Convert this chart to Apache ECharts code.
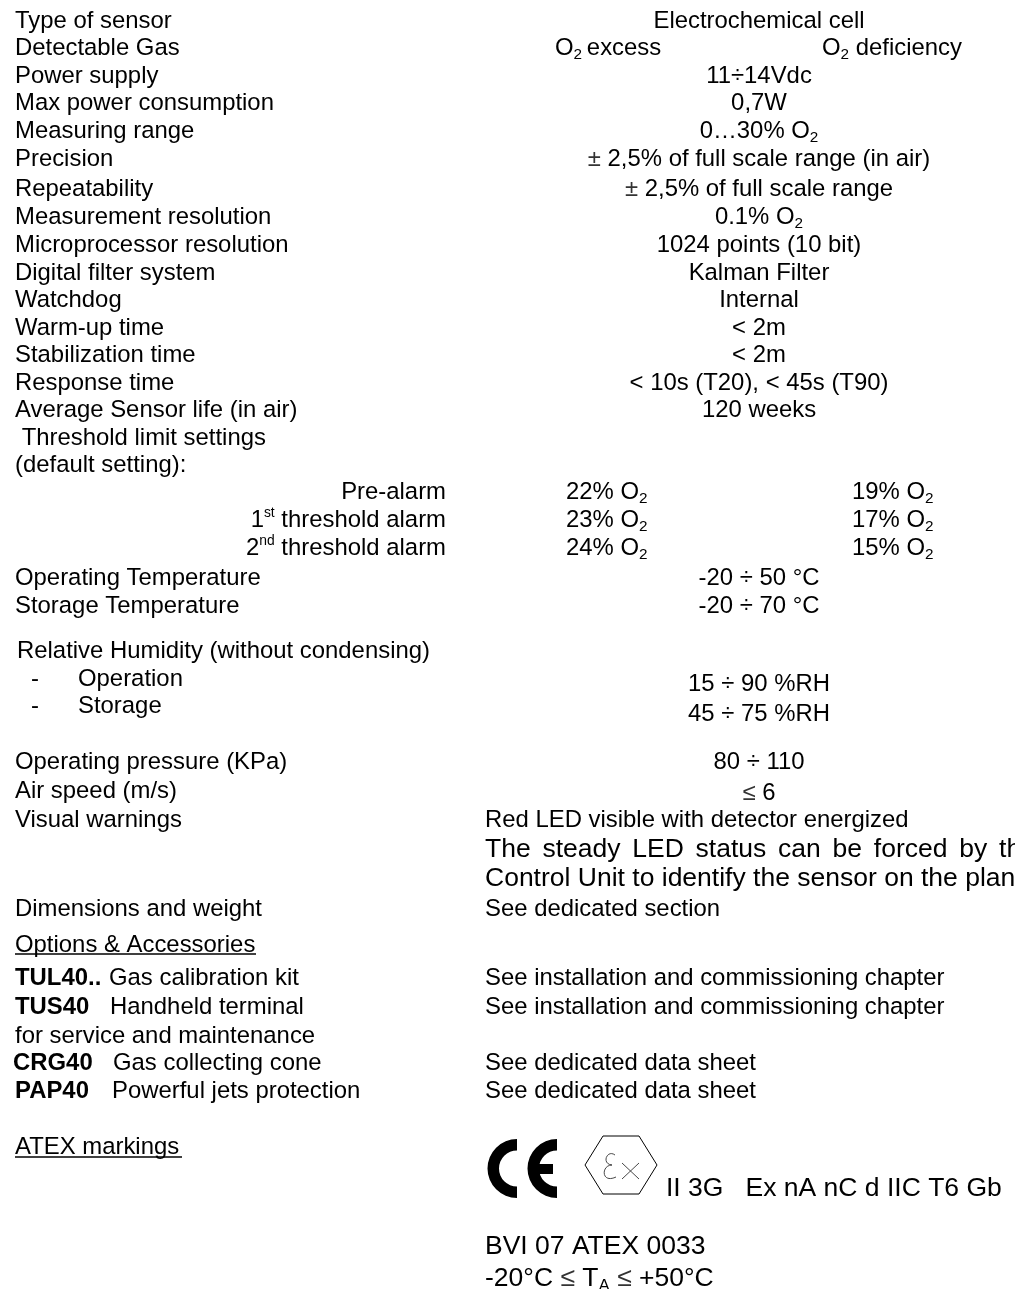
<!DOCTYPE html>
<html><head><meta charset="utf-8">
<style>html,body{margin:0;padding:0;background:#fff;overflow:hidden}#c{width:1031px;height:1289px}</style>
<script src="https://cdn.jsdelivr.net/npm/echarts@6/dist/echarts.min.js"></script>
</head><body><div id="c"></div>
<script>
// ---- content: text only ----
const leftLabels = ["Type of sensor","Detectable Gas","Power supply","Max power consumption","Measuring range","Precision","Repeatability","Measurement resolution","Microprocessor resolution","Digital filter system","Watchdog","Warm-up time","Stabilization time","Response time","Average Sensor life (in air)"," Threshold limit settings","(default setting):"];
const thresholdLabels = ["Pre-alarm","1^{st} threshold alarm","2^{nd} threshold alarm"];
const excessValues = ["22% O_2","23% O_2","24% O_2"];
const deficiencyValues = ["19% O_2","17% O_2","15% O_2"];
const centerValues = ["Electrochemical cell","11÷14Vdc","0,7W","0…30% O_2","± 2,5% of full scale range (in air)","± 2,5% of full scale range","0.1% O_2","1024 points (10 bit)","Kalman Filter","Internal","< 2m","< 2m","< 10s (T20), < 45s (T90)","120 weeks"];
const gasTypes = ["O_2\u2009excess","O_2 deficiency"];
const envLabels = ["Operating Temperature","Storage Temperature","Relative Humidity (without condensing)","Operating pressure (KPa)","Air speed (m/s)","Visual warnings","Dimensions and weight"];
const envSubLabels = ["-","Operation","-","Storage"];
const envValues = ["-20 ÷ 50 °C","-20 ÷ 70 °C","15 ÷ 90 %RH","45 ÷ 75 %RH","80 ÷ 110","≤ 6"];
const ledNotes = ["Red LED visible with detector energized","See dedicated section"];
const ledLong = ["The \u2006steady \u2006LED \u2006status \u2006can \u2006be \u2006forced \u2006by \u2006th","Control Unit to identify the sensor on the plan"];
const accessoryHeadings = ["Options & Accessories","ATEX markings"];
const accessoryCodes = ["TUL40..","TUS40","CRG40","PAP40"];
const accessoryNames = ["Gas calibration kit","Handheld terminal","Gas collecting cone","Powerful jets protection"];
const accessoryExtra = ["for service and maintenance"];
const accessoryRefs = ["See installation and commissioning chapter","See installation and commissioning chapter","See dedicated data sheet","See dedicated data sheet"];
const atexLines = ["II 3G   Ex nA nC d IIC T6 Gb","BVI 07 ATEX 0033","-20°C ≤ T_A ≤ +50°C"];

// ---- layout ----
const FS = 23.9, BIG = 26.5, YOFF = 1;
const rowY = [20,47,75,102,130,158,188,216,244,272,299,327,354,382,409,437,464];
const centerY = [20,75,102,130,158,188,216,244,272,299,327,354,382,409];
const threshY = [491,519,547];
const envY = [577,605,650,761,790,819,908];
const envXs = [15,15,17,15,15,15,15];
const envSubY = [678,678,705,705];
const envSubX = [31,78,31,78];
const envValY = [577,605,683,713,761,792];
const accY=[977,1006,1062,1090];
const LEFT = 15, CX = 759, RX = 485;

const base = {fontFamily:'Liberation Sans',fill:'#000'};
const makeRich = fs => ({
  sub:Object.assign({fontSize:fs*0.64,lineHeight:fs*0.86,verticalAlign:'bottom'},base),
  sup:Object.assign({fontSize:fs*0.58,lineHeight:fs*0.58,verticalAlign:'top'},base),
  sym:Object.assign({},base,{fontSize:fs,lineHeight:fs*1.17,fill:'#333'}),
  n:Object.assign({fontSize:fs,lineHeight:fs*1.17},base)
});
function mark(s){
  return s.split(/(_\w|\^\{\w+\}|[±≤])/).filter(Boolean).map(p=>{
    if(p==='±'||p==='≤') return '{sym|'+p+'}';
    if(p[0]==='_') return '{sub|'+p.slice(1)+'}';
    if(p[0]==='^') return '{sup|'+p.slice(2,-1)+'}';
    return '{n|'+p+'}';
  }).join('');
}
function T(s,x,y,align,fs){
  fs=fs||FS;
  return {type:'text',x:x,y:y+YOFF,silent:true,style:{
    text:mark(s),align:align||'left',verticalAlign:'middle',rich:makeRich(fs),
    fontFamily:'Liberation Sans',fontSize:fs,fill:'#000'}};
}
const els=[];
leftLabels.forEach((s,i)=>els.push(T(s,LEFT,rowY[i])));
thresholdLabels.forEach((s,i)=>els.push(T(s,446,threshY[i],'right')));
excessValues.forEach((s,i)=>els.push(T(s,566,threshY[i])));
deficiencyValues.forEach((s,i)=>els.push(T(s,852,threshY[i])));
centerValues.forEach((s,i)=>els.push(T(s,CX,centerY[i],'center')));
els.push(T(gasTypes[0],555,47),T(gasTypes[1],822,47));
envLabels.forEach((s,i)=>els.push(T(s,envXs[i],envY[i])));
envSubLabels.forEach((s,i)=>els.push(T(s,envSubX[i],envSubY[i])));
envValues.forEach((s,i)=>els.push(T(s,CX,envValY[i],'center')));
els.push(T(ledNotes[0],RX,819),T(ledNotes[1],RX,908));
els.push(T(ledLong[0],RX,849,'left',BIG),T(ledLong[1],RX,878,'left',BIG));
els.push(T(accessoryHeadings[0],LEFT,944),T(accessoryHeadings[1],LEFT,1146));
[LEFT,LEFT,13,15].forEach((x,i)=>{
  els.push({type:'text',x:x,y:accY[i]+YOFF,silent:true,style:{text:accessoryCodes[i],verticalAlign:'middle',font:'bold '+FS+'px Liberation Sans',fill:'#000'}});
});
[109,110,113,112].forEach((x,i)=>els.push(T(accessoryNames[i],x,accY[i])));
els.push(T(accessoryExtra[0],LEFT,1035));
accessoryRefs.forEach((s,i)=>els.push(T(s,RX,accY[i])));
els.push(T(atexLines[0],666,1188,'left',BIG),T(atexLines[1],RX,1246,'left',BIG),T(atexLines[2],RX,1278,'left',BIG));
// underlines
[[15,256,954],[15,182,1157]].forEach(l=>els.push({type:'line',silent:true,shape:{x1:l[0],y1:l[2],x2:l[1],y2:l[2]},style:{stroke:'#000',lineWidth:1.6}}));
// CE mark
els.push({type:'sector',silent:true,shape:{cx:517,cy:1168.5,r:29.5,r0:18,startAngle:Math.PI/2,endAngle:Math.PI*1.5,clockwise:true},style:{fill:'#000'}});
els.push({type:'sector',silent:true,shape:{cx:557,cy:1168.5,r:29.5,r0:18,startAngle:Math.PI/2,endAngle:Math.PI*1.5,clockwise:true},style:{fill:'#000'}});
els.push({type:'rect',silent:true,shape:{x:534,y:1164,width:19,height:10},style:{fill:'#000'}});
// Ex hexagon
els.push({type:'polygon',silent:true,shape:{points:[[585,1165],[603,1136],[639,1136],[657,1165],[639,1194],[603,1194]]},style:{fill:'none',stroke:'#000',lineWidth:1}});
[[[615,1155],[607,1149],[601,1164],[612,1165]],[[612,1165],[601,1165],[601,1184],[616,1177]]].forEach(b=>
  els.push({type:'bezierCurve',silent:true,shape:{x1:b[0][0],y1:b[0][1],cpx1:b[1][0],cpy1:b[1][1],cpx2:b[2][0],cpy2:b[2][1],x2:b[3][0],y2:b[3][1]},style:{fill:'none',stroke:'#333',lineWidth:.9}}));
[[622,1163,639,1179],[639,1163,622,1179]].forEach(l=>
  els.push({type:'line',silent:true,shape:{x1:l[0],y1:l[1],x2:l[2],y2:l[3]},style:{stroke:'#333',lineWidth:.9}}));
// right-hand crop of the long note
els.push({type:'rect',silent:true,z:50,shape:{x:1015,y:835,width:16,height:60},style:{fill:'#fff'}});

const chart=echarts.init(document.getElementById('c'),null,{renderer:'canvas'});
chart.setOption({animation:false,backgroundColor:'#fff',graphic:{elements:els}});
</script></body></html>
